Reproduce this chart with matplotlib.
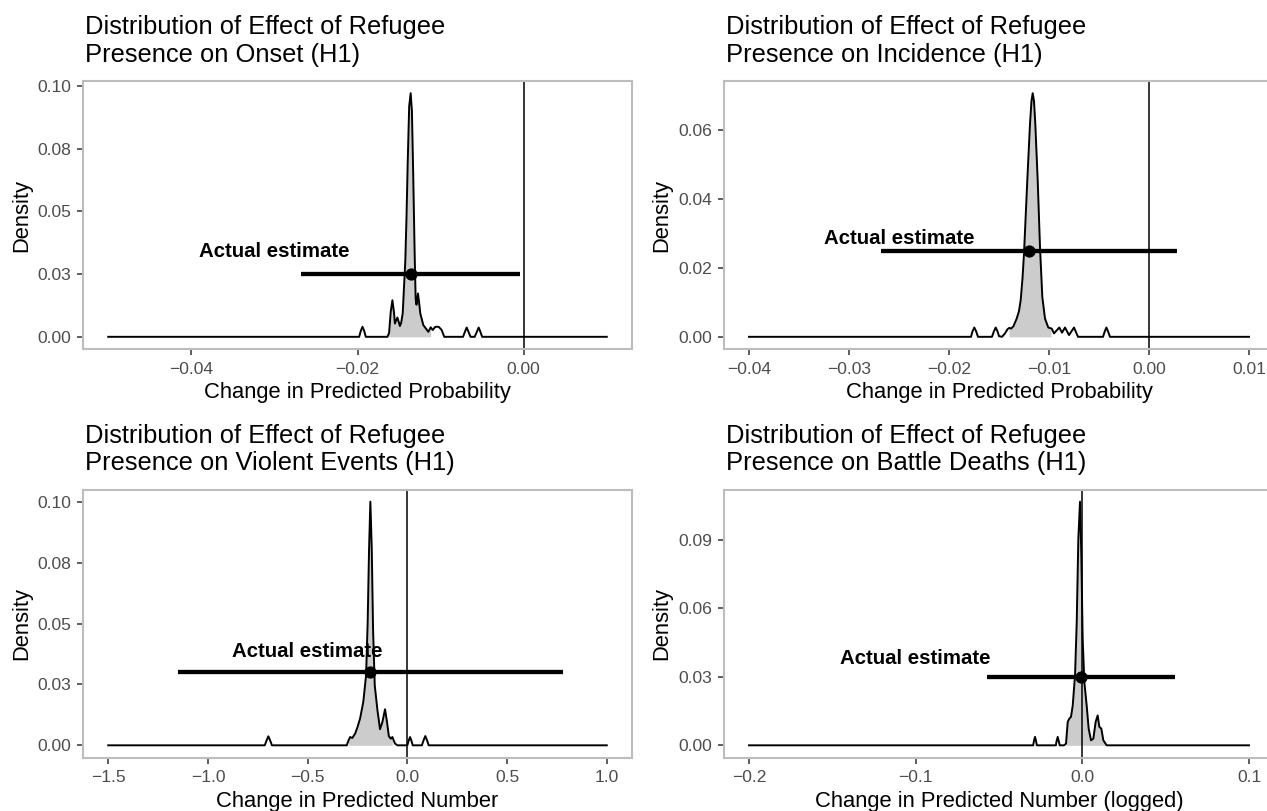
import matplotlib
matplotlib.use("Agg")
import matplotlib.pyplot as plt
import numpy as np

plt.rcParams["font.family"] = ["Liberation Sans", "DejaVu Sans"]

# ---- data ----
onset_title = ["Distribution of Effect of Refugee", "Presence on Onset (H1)"]
onset_xlab = "Change in Predicted Probability"
onset_x = [-0.05, -0.0198, -0.0196, -0.0194, -0.0192, -0.0190, -0.0164, -0.0162, -0.0160,
           -0.0158, -0.0156, -0.0155, -0.01535, -0.0152, -0.0150, -0.0149, -0.01475,
           -0.01456, -0.0144, -0.01425, -0.0141, -0.01396, -0.01378, -0.0136, -0.01345,
           -0.01329, -0.01312, -0.0130, -0.0129, -0.01272, -0.01258, -0.01244, -0.01208,
           -0.01179, -0.01148, -0.01119, -0.01095, -0.01064, -0.01023, -0.00987, -0.00956,
           -0.0073, -0.00705, -0.00686, -0.00667, -0.0064, -0.0059, -0.00561, -0.00542,
           -0.00523, -0.0050, 0.01]
onset_y = [0, 0, 0.0024, 0.0040, 0.0024, 0, 0, 0.0015, 0.0100,
           0.0146, 0.0095, 0.0053, 0.0065, 0.0077, 0.0055, 0.0043, 0.0055,
           0.0093, 0.0200, 0.0300, 0.0480, 0.0692, 0.0920, 0.0972, 0.0900,
           0.0640, 0.0330, 0.0150, 0.0128, 0.0173, 0.0135, 0.0093, 0.0047,
           0.0034, 0.0020, 0.0038, 0.0027, 0.0040, 0.0040, 0.0027, 0,
           0, 0.0022, 0.0037, 0.0022, 0, 0, 0.0022, 0.0037,
           0.0022, 0, 0]
onset_fill = [-0.0163, -0.0112]
onset_est = [-0.0136, -0.0268, -0.0004, 0.025]   # point, low, high, height
onset_label = [-0.030, 0.0347]
onset_xticks = [-0.04, -0.02, 0.00]
onset_xticklabels = ["\u22120.04", "\u22120.02", "0.00"]
onset_yticks = [0, 0.025, 0.05, 0.075, 0.10]
onset_yticklabels = ["0.00", "0.03", "0.05", "0.08", "0.10"]

incid_title = ["Distribution of Effect of Refugee", "Presence on Incidence (H1)"]
incid_xlab = "Change in Predicted Probability"
incid_x = [-0.04, -0.0178, -0.01765, -0.01747, -0.01729, -0.0171, -0.0157, -0.01551,
           -0.01533, -0.01515, -0.0150, -0.0147, -0.0144, -0.01415, -0.01397, -0.0138,
           -0.01357, -0.01323, -0.0130, -0.01283, -0.01265, -0.0125, -0.01217, -0.0119,
           -0.01175, -0.01163, -0.0115, -0.01137, -0.01113, -0.0109, -0.01067, -0.0104,
           -0.01007, -0.00973, -0.0095, -0.00897, -0.0087, -0.0084, -0.0080, -0.0075,
           -0.0071, -0.0046, -0.00442, -0.00426, -0.0041, -0.0039, 0.01]
incid_y = [0, 0, 0.0016, 0.0027, 0.0016, 0, 0, 0.0016,
           0.0027, 0.0016, 0.0002, 0, 0.0010, 0.0022, 0.0026, 0.0024,
           0.0030, 0.0053, 0.0075, 0.0107, 0.0170, 0.0242, 0.0455, 0.0619,
           0.0685, 0.0708, 0.0685, 0.0619, 0.0455, 0.0261, 0.0116, 0.0053,
           0.0027, 0.0024, 0.0010, 0.0027, 0.0012, 0.0027, 0.0005, 0.0027,
           0, 0, 0.0016, 0.0027, 0.0016, 0, 0]
incid_fill = [-0.0140, -0.0098]
incid_est = [-0.0120, -0.0268, 0.0028, 0.025]
incid_label = [-0.025, 0.0291]
incid_xticks = [-0.04, -0.03, -0.02, -0.01, 0.00, 0.01]
incid_xticklabels = ["\u22120.04", "\u22120.03", "\u22120.02", "\u22120.01", "0.00", "0.01"]
incid_yticks = [0, 0.02, 0.04, 0.06]
incid_yticklabels = ["0.00", "0.02", "0.04", "0.06"]

events_title = ["Distribution of Effect of Refugee", "Presence on Violent Events (H1)"]
events_xlab = "Change in Predicted Number"
events_x = [-1.5, -0.715, -0.706, -0.697, -0.688, -0.679, -0.304, -0.295, -0.287, -0.276,
            -0.262, -0.250, -0.237, -0.221, -0.207, -0.199, -0.192, -0.1855, -0.1785,
            -0.172, -0.1635, -0.150, -0.137, -0.125, -0.112, -0.102, -0.093, -0.083,
            -0.075, -0.062, -0.050, 0.000, 0.007, 0.0135, 0.020, 0.027, 0.073, 0.081,
            0.090, 0.099, 0.107, 1.0]
events_y = [0, 0, 0.0020, 0.0037, 0.0020, 0, 0, 0.0020, 0.0034, 0.0030,
            0.0048, 0.0075, 0.0110, 0.0178, 0.0287, 0.0506, 0.0807, 0.1000, 0.0807,
            0.0479, 0.0246, 0.0144, 0.0066, 0.0096, 0.0148, 0.0096, 0.0038, 0.0027,
            0.0034, 0.0007, 0, 0, 0.0020, 0.0034, 0.0020, 0, 0, 0.0020,
            0.0038, 0.0020, 0, 0]
events_fill = [-0.296, -0.075]
events_est = [-0.185, -1.15, 0.782, 0.030]
events_label = [-0.50, 0.0395]
events_xticks = [-1.5, -1.0, -0.5, 0.0, 0.5, 1.0]
events_xticklabels = ["\u22121.5", "\u22121.0", "\u22120.5", "0.0", "0.5", "1.0"]
events_yticks = [0, 0.025, 0.05, 0.075, 0.10]
events_yticklabels = ["0.00", "0.03", "0.05", "0.08", "0.10"]

deaths_title = ["Distribution of Effect of Refugee", "Presence on Battle Deaths (H1)"]
deaths_xlab = "Change in Predicted Number (logged)"
deaths_x = [-0.2, -0.0295, -0.029, -0.0284, -0.0278, -0.0273, -0.0159, -0.0154, -0.01476,
            -0.0142, -0.0136, -0.0110, -0.0098, -0.00876, -0.0078, -0.0068, -0.00576,
            -0.00438, -0.00336, -0.0024, -0.0014, -0.0006, 0.0002, 0.0012, 0.0026,
            0.0038, 0.0052, 0.0066, 0.0080, 0.0092, 0.0102, 0.0114, 0.0126, 0.0146, 0.1]
deaths_y = [0, 0, 0.0020, 0.0037, 0.0020, 0, 0, 0.0020, 0.0037,
            0.0020, 0, 0, 0.0007, 0.0103, 0.0117, 0.0125, 0.0175,
            0.0307, 0.0541, 0.0906, 0.1068, 0.0833, 0.0468, 0.0278, 0.0175,
            0.0073, 0.0022, 0.0029, 0.0103, 0.0131, 0.0081, 0.0073, 0.0022, 0, 0]
deaths_fill = [-0.0098, 0.0136]
deaths_est = [-0.001, -0.0575, 0.0555, 0.030]
deaths_label = [-0.10, 0.039]
deaths_xticks = [-0.2, -0.1, 0.0, 0.1]
deaths_xticklabels = ["\u22120.2", "\u22120.1", "0.0", "0.1"]
deaths_yticks = [0, 0.03, 0.06, 0.09]
deaths_yticklabels = ["0.00", "0.03", "0.06", "0.09"]

# ---- layout (pixels) ----
W, H = 1267, 811
fig = plt.figure(figsize=(W / 100, H / 100), dpi=100)
fig.patch.set_facecolor("white")


def ftext(x, y, s, **kw):
    fig.text(x / W, 1 - y / H, s, **kw)


def panel(box, title, xlab, cx, cy, fill, est, label, xt, xtl, yt, ytl):
    x0, y0, x1, y1 = box
    ax = fig.add_axes([x0 / W, 1 - y1 / H, (x1 - x0) / W, (y1 - y0) / H])
    cx = np.array(cx)
    cy = np.array(cy)

    # fill under the shaded interval
    inside = (cx > fill[0]) & (cx < fill[1])
    fx = np.concatenate([[fill[0]], cx[inside], [fill[1]]])
    fy = np.interp(fx, cx, cy)
    ax.fill_between(fx, fy, 0, color="#CCCCCC", lw=0)
    ax.plot(cx, cy, color="black", lw=1.4, solid_joinstyle="round")
    ax.axvline(0, color="black", lw=1.1)
    ax.plot([est[1], est[2]], [est[3], est[3]], color="black", lw=3.1,
            solid_capstyle="butt")
    ax.plot([est[0]], [est[3]], "o", color="black", ms=7.8)
    ax.text(label[0], label[1], "Actual estimate", ha="center", va="center_baseline",
            fontsize=14.7, fontweight="bold", color="black")

    xr = cx.max() - cx.min()
    ax.set_xlim(cx.min() - 0.05 * xr, cx.max() + 0.05 * xr)
    ymax = cy.max()
    ax.set_ylim(-0.05 * ymax, 1.05 * ymax)

    ax.set_xticks(xt)
    ax.set_xticklabels(xtl)
    ax.set_yticks(yt)
    ax.set_yticklabels(ytl)
    ax.tick_params(axis="both", length=4, width=1.1, color="#333333",
                   labelcolor="#4D4D4D", labelsize=12.6)
    ax.tick_params(axis="x", pad=5)
    ax.tick_params(axis="y", pad=4.5)
    for sp in ax.spines.values():
        sp.set_color("#BDBDBD")
        sp.set_linewidth(1.5)

    ftext(x0 + 1.5, y0 - 46.7, title[0], fontsize=18.4, va="baseline", ha="left")
    ftext(x0 + 1.5, y0 - 19.3, title[1], fontsize=18.4, va="baseline", ha="left")
    ftext((x0 + x1) / 2, y1 + 49.2, xlab, fontsize=15.8, va="baseline", ha="center")
    ftext(x0 - 62, (y0 + y1) / 2, "Density", fontsize=15.8, rotation=90,
          va="center", ha="center")
    return ax


left = (83.3, 631.7)
right = (724.0, 1274.0)
top = (81.0, 349.0)
bottom = (489.5, 757.5)

panel((left[0], top[0], left[1], top[1]), onset_title, onset_xlab, onset_x, onset_y,
      onset_fill, onset_est, onset_label, onset_xticks, onset_xticklabels,
      onset_yticks, onset_yticklabels)
panel((right[0], top[0], right[1], top[1]), incid_title, incid_xlab, incid_x, incid_y,
      incid_fill, incid_est, incid_label, incid_xticks, incid_xticklabels,
      incid_yticks, incid_yticklabels)
panel((left[0], bottom[0], left[1], bottom[1]), events_title, events_xlab, events_x,
      events_y, events_fill, events_est, events_label, events_xticks,
      events_xticklabels, events_yticks, events_yticklabels)
panel((right[0], bottom[0], right[1], bottom[1]), deaths_title, deaths_xlab, deaths_x,
      deaths_y, deaths_fill, deaths_est, deaths_label, deaths_xticks,
      deaths_xticklabels, deaths_yticks, deaths_yticklabels)

fig.savefig("out.png", dpi=100)
